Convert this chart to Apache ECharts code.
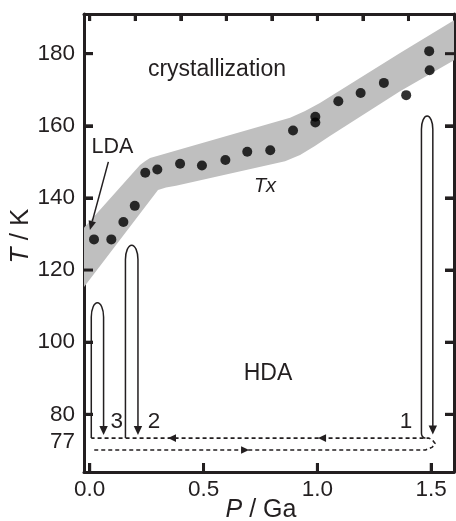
<!DOCTYPE html>
<html><head><meta charset="utf-8">
<script src="https://cdn.jsdelivr.net/npm/echarts@6/dist/echarts.min.js"></script>
<style>html,body{margin:0;padding:0;background:#fff}#c{width:456px;height:521px}</style>
</head><body><div id="c"></div>
<script>
// ---- data (P in GPa, T in K) ----
const txPressure = [0.019,0.095,0.148,0.198,0.244,0.297,0.397,0.493,0.596,0.692,0.793,0.893,0.991,0.991,1.092,1.190,1.292,1.390,1.491,1.493];
const txTemp     = [128.5,128.5,133.3,137.8,147.0,147.9,149.5,149.0,150.5,152.8,153.2,158.7,162.5,160.9,166.8,169.1,171.9,168.5,180.7,175.4];

const bandUpperP = [-0.025,0.221,0.243,0.265,0.296,0.880,0.946,1.011,1.363,1.600];
const bandUpperT = [131.7,149.1,150.2,151.1,151.6,162.2,164.1,166.3,180.2,189.3];
const bandLowerP = [-0.025,0.300,0.335,0.379,0.858,0.924,0.989,1.055,1.363,1.600];
const bandLowerT = [115.3,142.2,142.9,143.4,150.2,151.9,154.4,157.2,169.6,178.2];

// heating/cooling loops: left leg P, right leg P, bottom T, top T, arrow tip T, hook
const loopLeftP   = [0.007,0.157,1.457];
const loopRightP  = [0.061,0.212,1.507];
const loopBottomT = [73.4,73.4,73.9];
const loopTopT    = [110.9,126.9,162.7];
const loopTipT    = [74.25,74.25,74.4];
const loopHook    = [0,0,1];

// compression / decompression path at 77 K
const dashP = [0.02,1.475,1.505,1.517,1.505,1.49,0.007];
const dashT = [70.1,70.1,70.9,71.9,72.9,73.4,73.4];
const dashArrowP = [0.344,1.003,0.700];
const dashArrowT = [73.4,73.4,70.1];
const dashArrowDir = [-1,-1,1];

// LDA arrow
const ldaArrow = [0.082,150.0,0.001,131.1];

// annotations
const noteText = ['crystallization','LDA','Tx','HDA','3','2','1'];
const noteP    = [0.559,0.100,0.770,0.783,0.119,0.282,1.389];
const noteT    = [175.5,154.0,143.2,91.3,77.9,77.9,77.9];

const xMin = -0.025, xMax = 1.6, yMin = 64, yMax = 191;
const xTicksBottom = [0,0.5,1.0,1.5];
const xTicksTop = [0,0.2,0.4,0.6,0.8,1.0,1.2,1.4];
const yTicks = [80,100,120,140,160,180];
const y77Pos = 72.4; // where the "77" label sits
const yLabelValues = [y77Pos].concat(yTicks);

const INK = '#231f20';
const FONT = '"Liberation Sans", Arial, Helvetica, sans-serif';

const chart = echarts.init(document.getElementById('c'), null, {renderer:'canvas'});

function axisBase(ticks,len){
  return {
    axisLine:{show:true,onZero:false,lineStyle:{color:INK,width:3}},
    axisTick:{show:true,inside:true,length:len,customValues:ticks,lineStyle:{color:INK,width:3}},
    splitLine:{show:false}
  };
}

// tick lengths expressed in axis units (about 9 px / 7 px)
const tickLenP = 0.0395, tickLenT = 2.5, tickLenTopT = 1.95;
function tickLine(a,b){
  return {type:'line',symbol:'none',silent:true,z:8,clip:false,
    lineStyle:{color:INK,width:3,type:'solid',cap:'butt'},data:[a,b]};
}
const tickSeriesList = []
  .concat(xTicksBottom.map(v=>tickLine([v,yMin],[v,yMin+tickLenT])))
  .concat(xTicksTop.map(v=>tickLine([v,yMax],[v,yMax-tickLenTopT])))
  .concat(yTicks.map(v=>tickLine([xMin,v],[xMin+tickLenP,v])))
  .concat(yTicks.map(v=>tickLine([xMax,v],[xMax-tickLenP,v])));

const option = {
  animation:false,
  backgroundColor:'#fff',
  grid:{left:84,right:2,top:14,bottom:49,containLabel:false,outerBoundsMode:'none'},
  xAxis:[
    Object.assign(axisBase(xTicksBottom,9),{
      type:'value',position:'bottom',min:xMin,max:xMax,
      axisLabel:{show:true,customValues:xTicksBottom,formatter:v=>v.toFixed(1),fontSize:22.5,color:INK,fontFamily:FONT,margin:6},
      name:'{i|P} / Ga',nameLocation:'middle',nameGap:26,nameMoveOverlap:false,
      nameTextStyle:{fontSize:25,color:INK,fontFamily:FONT,padding:[0,16,0,0],
        rich:{i:{fontStyle:'italic',fontSize:25,color:INK,fontFamily:FONT}}}
    }),
    Object.assign(axisBase(xTicksTop,7),{
      type:'value',position:'top',min:xMin,max:xMax,
      axisLabel:{show:false}
    })
  ],
  yAxis:[
    Object.assign(axisBase(yTicks,9),{
      type:'value',position:'left',min:yMin,max:yMax,
      axisLabel:{show:true,customValues:yLabelValues,formatter:v=>(v<79?'77':String(Math.round(v))),fontSize:22.5,color:INK,fontFamily:FONT,margin:9},
      name:'{i|T} / K',nameLocation:'middle',nameGap:50,nameMoveOverlap:false,
      nameTextStyle:{fontSize:26,color:INK,fontFamily:FONT,padding:[0,0,0,14],
        rich:{i:{fontStyle:'italic',fontSize:26,color:INK,fontFamily:FONT}}}
    }),
    Object.assign(axisBase(yTicks,9),{
      type:'value',position:'right',min:yMin,max:yMax,
      axisLabel:{show:false}
    })
  ],
  series:[
    { // gray Tx band
      type:'custom',coordinateSystem:'cartesian2d',clip:true,silent:true,z:1,
      data:[[0.5,150]],
      renderItem:(params,api)=>{
        const pts=[];
        bandUpperP.forEach((p,i)=>pts.push(api.coord([p,bandUpperT[i]])));
        for(let i=bandLowerP.length-1;i>=0;i--) pts.push(api.coord([bandLowerP[i],bandLowerT[i]]));
        return {type:'polygon',shape:{points:pts},style:{fill:'#bfbfbf'}};
      }
    },
    { // Tx points
      type:'scatter',symbol:'circle',symbolSize:10,z:5,
      itemStyle:{color:'#000'},
      data:txPressure.map((p,i)=>[p,txTemp[i]])
    },
    { // dashed compression path
      type:'line',symbol:'none',z:3,silent:true,
      lineStyle:{color:INK,width:1.6,type:[4,3]},
      data:dashP.map((p,i)=>[p,dashT[i]])
    },
    { // arrows on dashed path
      type:'custom',coordinateSystem:'cartesian2d',z:4,silent:true,
      data:dashArrowP.map((p,i)=>[p,dashArrowT[i],dashArrowDir[i]]),
      renderItem:(params,api)=>{
        const c=api.coord([api.value(0),api.value(1)]);
        const d=api.value(2);
        return {type:'polygon',shape:{points:[[c[0],c[1]],[c[0]-d*8,c[1]-3.8],[c[0]-d*8,c[1]+3.8]]},style:{fill:INK}};
      }
    },
    { // heating loops
      type:'custom',coordinateSystem:'cartesian2d',z:4,silent:true,
      data:loopLeftP.map((p,i)=>[p,loopRightP[i],loopBottomT[i],loopTopT[i],loopTipT[i],loopHook[i]]),
      renderItem:(params,api)=>{
        const L=api.coord([api.value(0),api.value(2)]);
        const R=api.coord([api.value(1),api.value(4)]);
        const topY=api.coord([api.value(0),api.value(3)])[1];
        const rx=(R[0]-L[0])/2, ry=rx*2.3;
        const cy=topY+ry;
        const ah=9;
        let d;
        if(api.value(5)){
          d=`M${L[0]+4} ${L[1]+2} Q${L[0]} ${L[1]+1} ${L[0]} ${L[1]-3} `;
        } else {
          d=`M${L[0]} ${L[1]} `;
        }
        d+=`L${L[0]} ${cy} A${rx} ${ry} 0 0 1 ${R[0]} ${cy} L${R[0]} ${R[1]-ah+1}`;
        return {type:'group',children:[
          {type:'path',shape:{pathData:d},style:{stroke:INK,lineWidth:1.5,fill:null}},
          {type:'polygon',shape:{points:[[R[0]-4.2,R[1]-ah],[R[0]+4.2,R[1]-ah],[R[0],R[1]]]},style:{fill:INK}}
        ]};
      }
    },
    { // LDA arrow
      type:'custom',coordinateSystem:'cartesian2d',z:4,silent:true,
      data:[ldaArrow],
      renderItem:(params,api)=>{
        const a=api.coord([api.value(0),api.value(1)]);
        const b=api.coord([api.value(2),api.value(3)]);
        const dx=b[0]-a[0], dy=b[1]-a[1], len=Math.hypot(dx,dy);
        const ux=dx/len, uy=dy/len, h=9, w=3.8;
        const bx=b[0]-ux*h, by=b[1]-uy*h;
        return {type:'group',children:[
          {type:'line',shape:{x1:a[0],y1:a[1],x2:bx,y2:by},style:{stroke:INK,lineWidth:1.5}},
          {type:'polygon',shape:{points:[[b[0],b[1]],[bx-uy*w,by+ux*w],[bx+uy*w,by-ux*w]]},style:{fill:INK}}
        ]};
      }
    },
    { // text annotations
      type:'custom',coordinateSystem:'cartesian2d',z:6,silent:true,
      data:noteP.map((p,i)=>[p,noteT[i]]),
      renderItem:(params,api)=>{
        const c=api.coord([api.value(0),api.value(1)]);
        const t=noteText[params.dataIndex];
        let size=22.5, style='normal';
        if(t==='Tx'){size=20;style='italic';}
        if(t==='LDA') size=21.5;
        if(t==='HDA'||t==='crystallization') size=23;
        return {type:'text',x:c[0],y:c[1],style:{text:t,fontSize:size,fontStyle:style,fontFamily:FONT,fill:INK,align:'center',verticalAlign:'middle'}};
      }
    }
  ].concat(tickSeriesList)
};
chart.setOption(option);
</script>
</body></html>
